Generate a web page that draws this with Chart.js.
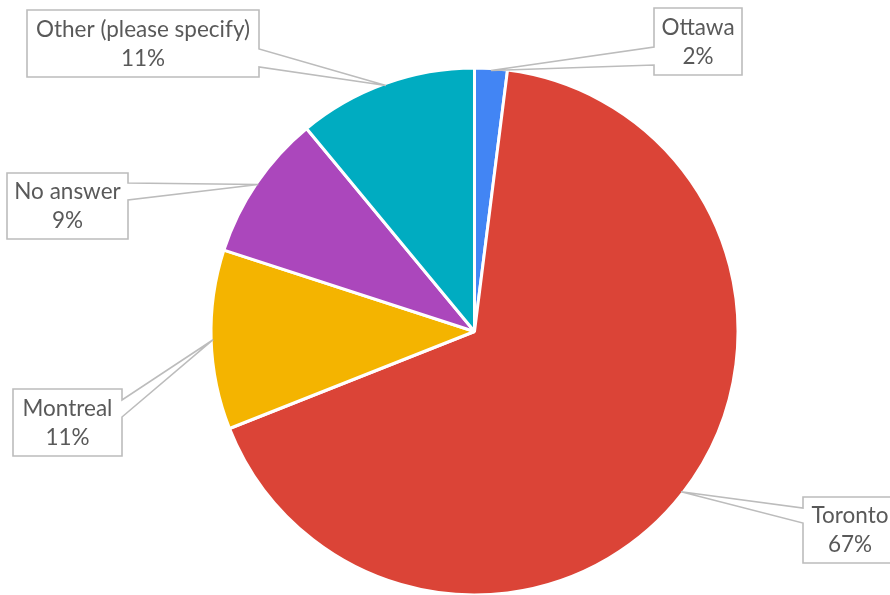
<!DOCTYPE html>
<html>
<head>
<meta charset="utf-8">
<script src="https://cdn.jsdelivr.net/npm/chart.js@4"></script>
<style>
  html, body { margin: 0; padding: 0; background: #fff; overflow: hidden; }
  #wrap { width: 890px; height: 600px; }
</style>
</head>
<body>
<div id="wrap"><canvas id="pie_chart" width="890" height="600"></canvas></div>
<script>
// Responses by city
var cities = ['Ottawa', 'Toronto', 'Montreal', 'No answer', 'Other (please specify)'];
var shares = [2, 67, 11, 9, 11];
var colors = ['#4285F4', '#DB4437', '#F4B400', '#AB47BC', '#00ACC1'];

// callout boxes: [left, top, right, bottom], pointer side and where the pointer leaves the box
var callouts = [
    { box: [654, 8, 742, 75], side: 'left', base: [47, 65] },
    { box: [803, 497, 897, 563], side: 'left', base: [508, 523] },
    { box: [13, 389, 122, 456], side: 'right', base: [400, 417] },
    { box: [7, 173, 128, 239], side: 'right', base: [183, 200] },
    { box: [27, 10, 259, 77], side: 'right', base: [49, 67] }
];

var calloutPlugin = {
    id: 'callouts',
    afterDatasetsDraw: function(chart){
        var ctx = chart.ctx;
        var meta = chart.getDatasetMeta(0);
        var data = chart.data.datasets[0].data;
        var total = data.reduce(function(a, b){ return a + b; }, 0);
        meta.data.forEach(function(arc, i){
            var c = callouts[i];
            if (!c) return;
            var p = arc.getProps(['x', 'y', 'startAngle', 'endAngle', 'outerRadius'], true);
            var mid = (p.startAngle + p.endAngle) / 2;
            var r = p.outerRadius - 2;
            var tx = p.x + Math.cos(mid) * r;
            var ty = p.y + Math.sin(mid) * r;
            var x1 = c.box[0], y1 = c.box[1], x2 = c.box[2], y2 = c.box[3];

            ctx.save();
            ctx.beginPath();
            if (c.side === 'right') {
                ctx.moveTo(x1, y1);
                ctx.lineTo(x2, y1);
                ctx.lineTo(x2, c.base[0]);
                ctx.lineTo(tx, ty);
                ctx.lineTo(x2, c.base[1]);
                ctx.lineTo(x2, y2);
                ctx.lineTo(x1, y2);
            } else {
                ctx.moveTo(x2, y1);
                ctx.lineTo(x1, y1);
                ctx.lineTo(x1, c.base[0]);
                ctx.lineTo(tx, ty);
                ctx.lineTo(x1, c.base[1]);
                ctx.lineTo(x1, y2);
                ctx.lineTo(x2, y2);
            }
            ctx.closePath();
            ctx.fillStyle = '#ffffff';
            ctx.fill();
            ctx.lineWidth = 1.6;
            ctx.strokeStyle = '#bcbcbc';
            ctx.stroke();

            var cx = (x1 + x2) / 2;
            var cy = (y1 + y2) / 2;
            var pct = Math.round(data[i] / total * 100) + '%';
            ctx.fillStyle = '#595959';
            ctx.font = '22.5px Lato, "Open Sans", sans-serif';
            ctx.textAlign = 'center';
            ctx.textBaseline = 'middle';
            ctx.fillText(chart.data.labels[i], cx, cy - 14);
            ctx.fillText(pct, cx, cy + 15);
            ctx.restore();
        });
    }
};

var bieudo_pie = new Chart(document.getElementById('pie_chart').getContext('2d'), {
    type: 'pie',
    data: {
        labels: cities,
        datasets: [
            {
                data: shares,
                backgroundColor: colors,
                borderColor: '#ffffff',
                borderWidth: 3,
                hoverOffset: 0
            }
        ]
    },
    options: {
        responsive: false,
        animation: false,
        layout: {
            padding: { left: 209.5, right: 150.5, top: 66.5, bottom: 3.5 }
        },
        plugins: {
            legend: { display: false },
            tooltip: { enabled: false }
        }
    },
    plugins: [calloutPlugin]
});
</script>
</body>
</html>
